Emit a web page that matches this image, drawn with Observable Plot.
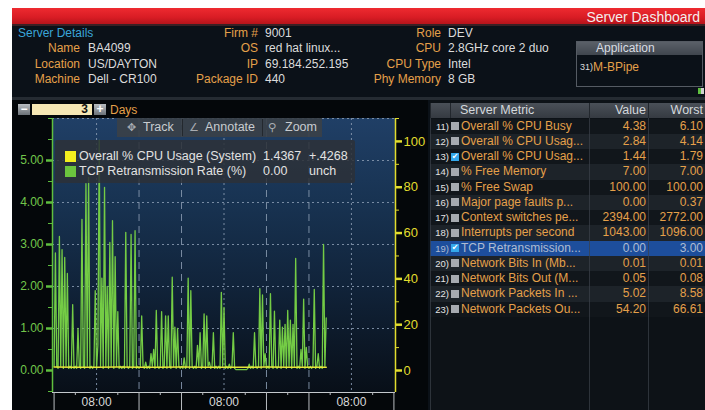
<!DOCTYPE html>
<html><head><meta charset="utf-8">
<script src="https://cdn.jsdelivr.net/npm/d3@7"></script>
<script src="https://cdn.jsdelivr.net/npm/@observablehq/plot@0.6"></script>
<style>
html,body{margin:0;padding:0;background:#fff;width:705px;height:410px;overflow:hidden;font-family:"Liberation Sans",Arial,sans-serif;font-size:12px;}
#root{position:relative;width:705px;height:410px;overflow:hidden;}
#root div{white-space:nowrap;}
</style></head><body><div id="root"></div>
<script>
// ---------- data ----------
const dashboardTitle = "Server Dashboard";
const sectionTitle = "Server Details";
const leftLabels = ["Name", "Location", "Machine"];
const leftValues = ["BA4099", "US/DAYTON", "Dell - CR100"];
const midLabels = ["Firm #", "OS", "IP", "Package ID"];
const midValues = ["9001", "red hat linux...", "69.184.252.195", "440"];
const rightLabels = ["Role", "CPU", "CPU Type", "Phy Memory"];
const rightValues = ["DEV", "2.8GHz core 2 duo", "Intel", "8 GB"];
const appHeader = "Application";
const appItems = ["M-BPipe"];
const appIds = ["31)"];

const metricIds = [11, 12, 13, 14, 15, 16, 17, 18, 19, 20, 21, 22, 23];
const metricNames = ["Overall % CPU Busy", "Overall % CPU Usag...", "Overall % CPU Usag...", "% Free Memory", "% Free Swap",
  "Major page faults p...", "Context switches pe...", "Interrupts per second", "TCP Retransmission...",
  "Network Bits In (Mb...", "Network Bits Out (M...", "Network Packets In ...", "Network Packets Ou..."];
const metricValues = ["4.38", "2.84", "1.44", "7.00", "100.00", "0.00", "2394.00", "1043.00", "0.00", "0.01", "0.05", "5.02", "54.20"];
const metricWorst = ["6.10", "4.14", "1.79", "7.00", "100.00", "0.37", "2772.00", "1096.00", "3.00", "0.01", "0.08", "8.58", "66.61"];
const checkedMetrics = [13, 19];
const highlightedMetric = 19;
const tableHeaders = ["Server Metric", "Value", "Worst"];

const legendNames = ["Overall % CPU Usage (System)", "TCP Retransmission Rate (%)"];
const legendValues = ["1.4367", "0.00"];
const legendChanges = ["+.4268", "unch"];
const toolbarItems = ["Track", "Annotate", "Zoom"];
const toolbarIcons = ["\u2725", "\u2220", "\u26B2"];
const periodValue = "3";
const periodUnit = "Days";

// TCP retransmission rate (%), sampled every 15 minutes from hour 0 (left axis)
const tcpStartHour = 0;
const tcpStepHours = 0.25;
const tcpValues = [
  0.1, 2.8, 0.1, 0.05, 3.19, 0.1, 2.88, 0.05, 2.69, 0.1,
  2.31, 0.05, 0.1, 0.05, 1.57, 0.05, 0.1, 0.05, 1.0, 0.1,
  0.05, 3.6, 0.1, 0.05, 4.45, 0.1, 4.6, 0.05, 0.1, 0.05,
  0.1, 1.9, 0.05, 0.6, 5.48, 0.1, 2.2, 0.05, 4.36, 0.1,
  2.0, 0.05, 3.05, 0.1, 3.57, 0.05, 2.71, 0.1, 1.4, 0.05,
  0.1, 0.05, 0.1, 0.05, 3.29, 0.1, 0.05, 0.1, 3.24, 0.05,
  0.1, 3.33, 0.05, 0.1, 0.05, 0.1, 1.3, 0.1, 0.05, 0.2,
  0.05, 0.1, 0.05, 0.4, 0.1, 0.5, 0.05, 1.43, 0.1, 0.05,
  0.1, 1.4, 0.05, 0.1, 1.3, 0.05, 1.3, 0.1, 0.05, 2.22,
  0.1, 1.03, 0.05, 1.0, 0.1, 0.05, 0.1, 0.05, 0.3, 0.05,
  0.1, 2.2, 0.05, 1.9, 0.1, 0.05, 0.1, 0.05, 0.6, 0.1,
  0.9, 0.05, 0.1, 1.35, 0.05, 1.3, 0.1, 0.2, 0.05, 0.1,
  0.9, 0.05, 0.1, 0.05, 0.1, 0.05, 1.86, 0.1, 1.5, 0.05,
  0.1, 0.05, 0.15, 0.05, 0.1, 0.9, 0.05, 0.02, 0.02, 0.02,
  0.02, 0.02, 0.02, 0.02, 0.02, 0.02, 0.05, 0.15, 0.05, 0.1,
  0.05, 0.9, 0.1, 0.05, 0.1, 1.95, 0.05, 1.8, 0.1, 0.4,
  0.05, 0.1, 0.05, 1.83, 0.1, 0.05, 1.41, 0.1, 0.05, 0.1,
  1.2, 0.05, 1.03, 0.1, 1.1, 0.05, 1.43, 0.1, 1.2, 0.05,
  1.1, 0.1, 2.67, 0.05, 0.1, 0.05, 0.5, 0.1, 1.7, 0.05,
  0.55, 0.1, 0.05, 0.1, 0.05, 0.1, 1.93, 0.05, 0.1, 0.4,
  0.05, 0.1, 0.05, 3.0, 0.1, 1.25
];
// Overall % CPU usage (System) (right axis)
const cpuHours = [0, 4, 8, 12, 16, 20, 24, 28, 32, 36, 40, 44, 48, 51.25];
const cpuValues = [1.5, 1.45, 1.4, 1.5, 1.45, 1.4, 1.5, 1.45, 1.45, 1.4, 1.5, 1.45, 1.42, 1.44];

const leftTicks = [0, 1, 2, 3, 4, 5];
const leftMinorTicks = [-0.5, 0.5, 1.5, 2.5, 3.5, 4.5, 5.5, 6];
const gridLevels = [1, 2, 3, 4, 5, 6];
const rightTicks = [0, 20, 40, 60, 80, 100];
const rightMinorTicks = [10, 30, 50, 70, 90, 110];
const timeTicks = [8, 32, 56];
const timeTickLabel = "08:00";
const dayBreaks = [16, 24, 40, 48];
const bandSeparators = [0, 16, 24, 40, 48, 64];
const minorTimeTicks = [4, 12, 20, 28, 36, 44, 52, 60];
const xDomain = [-0.3, 64.3];
const leftDomain = [-0.524, 6];
const rightDomain = [-9.6, 110];

// ---------- helpers ----------
const root = document.getElementById("root");
function el(style, text, parent) {
  const e = document.createElement("div");
  Object.assign(e.style, {position: "absolute"}, style);
  if (text != null) e.textContent = text;
  (parent || root).appendChild(e);
  return e;
}
const ORANGE = "#e5a04a", WHITE = "#dcdcdc";

// ---------- frame ----------
el({left: "12px", top: "8px", width: "693px", height: "402px", background: "#0b1118"});
el({left: "12px", top: "8px", width: "693px", height: "16px", background: "linear-gradient(#ee2a30,#d81c24 60%,#b5141b)"});
el({left: "12px", top: "24px", width: "693px", height: "2px", background: "#3a2024"});
el({left: "12px", top: "9px", width: "688px", height: "16px", lineHeight: "16px", textAlign: "right", color: "#f4eded", fontSize: "14px"}, dashboardTitle);

// header block
const rowC = [33, 48, 63.5, 79];
el({left: "18px", top: (rowC[0] - 8) + "px", lineHeight: "16px", color: "#3aa6d8"}, sectionTitle);
leftLabels.forEach((t, i) => {
  el({left: "0px", width: "80px", top: (rowC[i + 1] - 8) + "px", lineHeight: "16px", textAlign: "right", color: ORANGE}, t);
  el({left: "88px", top: (rowC[i + 1] - 8) + "px", lineHeight: "16px", color: WHITE}, leftValues[i]);
});
midLabels.forEach((t, i) => {
  el({left: "158px", width: "100px", top: (rowC[i] - 8) + "px", lineHeight: "16px", textAlign: "right", color: ORANGE}, t);
  el({left: "265px", top: (rowC[i] - 8) + "px", lineHeight: "16px", color: WHITE}, midValues[i]);
});
rightLabels.forEach((t, i) => {
  el({left: "341px", width: "100px", top: (rowC[i] - 8) + "px", lineHeight: "16px", textAlign: "right", color: ORANGE}, t);
  el({left: "448px", top: (rowC[i] - 8) + "px", lineHeight: "16px", color: WHITE}, rightValues[i]);
});
// application box
el({left: "576px", top: "41px", width: "125px", height: "44px", border: "1px solid #555b63", background: "#0b1118"});
el({left: "577px", top: "42px", width: "125px", height: "13px", background: "linear-gradient(#5a6068,#40464e)"});
el({left: "596px", top: "41px", lineHeight: "15px", color: "#d8dce2"}, appHeader);
appItems.forEach((t, i) => {
  el({left: "580px", top: (60 + i * 14) + "px", lineHeight: "14px", color: WHITE, fontSize: "9px"}, appIds[i]);
  el({left: "593px", top: (60 + i * 14) + "px", lineHeight: "14px", color: ORANGE}, t);
});
el({left: "698px", top: "88px", width: "6px", height: "6px", background: "linear-gradient(90deg,#5fbf3f 50%,#d0d0d0 50%)"});

// separators / panels
el({left: "12px", top: "97px", width: "693px", height: "3px", background: "#252b32"});
el({left: "12px", top: "100px", width: "416px", height: "310px", background: "#04070a"});
el({left: "430px", top: "100px", width: "275px", height: "310px", background: "#0d1217"});

// period control
el({left: "18px", top: "104px", width: "12px", height: "11px", background: "linear-gradient(#b8bcc0,#6c7278)", color: "#fff", fontSize: "12px", lineHeight: "11px", textAlign: "center", fontWeight: "bold"}, "\u2212");
el({left: "32px", top: "104px", width: "56px", height: "11px", paddingRight: "4px", background: "#f6e7b4", color: "#111", fontSize: "12px", lineHeight: "11px", textAlign: "right", fontWeight: "bold"}, periodValue);
el({left: "94px", top: "104px", width: "12px", height: "11px", background: "linear-gradient(#b8bcc0,#6c7278)", color: "#fff", fontSize: "12px", lineHeight: "11px", textAlign: "center", fontWeight: "bold"}, "+");
el({left: "110px", top: "103px", lineHeight: "14px", color: ORANGE}, periodUnit);

// plot background gradient
el({left: "52px", top: "118px", width: "343px", height: "274px", background: "linear-gradient(#203f66 0%,#183352 30%,#11243b 60%,#0c1827 82%,#080f18 100%)"});

// ---------- charts ----------
const W = 430, H = 310, mL = 52, mR = 35, mT = 18, mB = 18;
const tcp = tcpValues.map((v, i) => ({h: tcpStartHour + i * tcpStepHours, v}));
const cpu = cpuValues.map((v, i) => ({h: cpuHours[i], v}));
const GREEN = "#5fbf3f", YEL = "#e2dd2e", GRID = "#8597ad";
const baseStyle = {background: "transparent", color: "#d8d8d8", fontFamily: "Liberation Sans, Arial, sans-serif", fontSize: "12px", overflow: "visible"};
const blank = () => "";

const p1 = Plot.plot({
  width: W, height: H, marginLeft: mL, marginRight: mR, marginTop: mT, marginBottom: mB,
  style: baseStyle,
  x: {domain: xDomain, label: null},
  y: {domain: leftDomain, label: null},
  marks: [
    Plot.ruleY(gridLevels, {stroke: GRID, strokeDasharray: "2,3", strokeOpacity: 0.9}),
    Plot.ruleX(timeTicks, {stroke: GRID, strokeDasharray: "2,3", strokeOpacity: 0.9}),
    Plot.ruleX(dayBreaks, {stroke: GRID, strokeDasharray: "7,5", strokeOpacity: 0.9}),
    Plot.ruleY([leftDomain[0]], {stroke: "#c4c8cc"}),
    Plot.lineY(tcp, {x: "h", y: "v", stroke: "#74cc45", strokeWidth: 1.3}),
    Plot.axisY(leftTicks, {anchor: "left", label: null, tickFormat: d3.format(".2f"), tickSize: 6, tickPadding: 3, stroke: GREEN, fill: "#72c64a", strokeWidth: 2.5, fontSize: 12}),
    Plot.axisY(leftMinorTicks, {anchor: "left", label: null, tickFormat: blank, tickSize: 4, stroke: GREEN}),
    Plot.ruleX([xDomain[0]], {stroke: GREEN, strokeWidth: 1.5}),
    Plot.axisX(timeTicks, {anchor: "bottom", label: null, tickSize: 0, tickPadding: 5, tickFormat: () => timeTickLabel, fill: "#d8d8d8", fontSize: 12}),
    Plot.axisX(bandSeparators, {anchor: "bottom", label: null, tickSize: 18, tickFormat: blank, stroke: "#b8bcc0"}),
    Plot.axisX(minorTimeTicks, {anchor: "bottom", label: null, tickSize: 3, tickFormat: blank, stroke: "#b8bcc0"})
  ]
});
Object.assign(p1.style, {position: "absolute", left: "0px", top: "100px"});
root.appendChild(p1);

const p2 = Plot.plot({
  width: W, height: H, marginLeft: mL, marginRight: mR, marginTop: mT, marginBottom: mB,
  style: baseStyle,
  x: {domain: xDomain, axis: null, label: null},
  y: {domain: rightDomain, axis: null, label: null},
  marks: [
    Plot.lineY(cpu, {x: "h", y: "v", stroke: "#e8e43a", strokeWidth: 1.6}),
    Plot.axisY(rightTicks, {anchor: "right", label: null, tickSize: 6, tickPadding: 2, stroke: YEL, fill: YEL, strokeWidth: 2.5, fontSize: 13}),
    Plot.axisY(rightMinorTicks, {anchor: "right", label: null, tickSize: 3, tickFormat: blank, stroke: YEL}),
    Plot.ruleX([xDomain[1]], {stroke: YEL, strokeWidth: 1.5})
  ]
});
Object.assign(p2.style, {position: "absolute", left: "0px", top: "100px"});
root.appendChild(p2);

// toolbar overlay
el({left: "117px", top: "118px", width: "205px", height: "19px", background: "rgba(58,64,72,0.92)"});
el({left: "182px", top: "119px", width: "1px", height: "17px", background: "#23282e"});
el({left: "262px", top: "119px", width: "1px", height: "17px", background: "#23282e"});
const tbX = [[127, 143], [189, 205], [268, 285]];
toolbarItems.forEach((t, i) => {
  el({left: tbX[i][0] + "px", top: "119px", lineHeight: "17px", color: "#a8acb2", fontFamily: "DejaVu Sans", fontSize: "11px"}, toolbarIcons[i]);
  el({left: tbX[i][1] + "px", top: "119px", lineHeight: "17px", color: "#c8ccd0", fontSize: "12.5px"}, t);
});

// legend overlay
el({left: "55px", top: "140px", width: "300px", height: "43px", background: "rgba(44,49,56,0.86)", borderRadius: "2px"});
const legendColors = ["#f2ee1e", "#6cc43e"];
legendNames.forEach((t, i) => {
  const cy = 156 + i * 15;
  el({left: "65px", top: (cy - 5) + "px", width: "11px", height: "11px", background: legendColors[i]});
  el({left: "79px", top: (cy - 8) + "px", lineHeight: "16px", color: "#e2e2e2", fontSize: "12.5px"}, t);
  el({left: "263px", top: (cy - 8) + "px", lineHeight: "16px", color: "#e2e2e2", fontSize: "12.5px"}, legendValues[i]);
  el({left: "309px", top: (cy - 8) + "px", lineHeight: "16px", color: "#e2e2e2", fontSize: "12.5px"}, legendChanges[i]);
});

// ---------- table ----------
el({left: "430px", top: "103px", width: "275px", height: "15px", background: "linear-gradient(#4a5058,#353a41)"});
[430, 450, 589, 648].forEach(x => el({left: x + "px", top: "103px", width: "1px", height: "15px", background: "#22272d"}));
el({left: "460px", top: "103px", lineHeight: "15px", color: "#d4d8dc", fontSize: "12.5px"}, tableHeaders[0]);
el({left: "560px", width: "86px", top: "103px", lineHeight: "15px", textAlign: "right", color: "#d4d8dc", fontSize: "12.5px"}, tableHeaders[1]);
el({left: "620px", width: "83px", top: "103px", lineHeight: "15px", textAlign: "right", color: "#d4d8dc", fontSize: "12.5px"}, tableHeaders[2]);
const rowH = 15.25, row0 = 118.5;
metricIds.forEach((id, i) => {
  const top = row0 + i * rowH;
  const hi = id === highlightedMetric;
  el({left: "430px", top: top + "px", width: "275px", height: rowH + "px", background: hi ? "#1d4e9c" : (i % 2 ? "#1d2329" : "#11161b")});
  const txt = hi ? "#aebcd2" : ORANGE;
  el({left: "430px", width: "19px", top: top + "px", lineHeight: rowH + "px", textAlign: "right", color: hi ? "#aebcd2" : "#e4e4e4", fontSize: "9.5px", fontFamily: "Liberation Sans Narrow, Liberation Sans, sans-serif"}, id + ")");
  const chk = checkedMetrics.includes(id);
  el({left: "451px", top: (top + 3.5) + "px", width: "8px", height: "8px", background: chk ? "#34a8ec" : "#a6aab0", color: "#fff", fontSize: "8px", lineHeight: "8px", textAlign: "center", fontFamily: "DejaVu Sans"}, chk ? "\u2714" : "");
  el({left: "461px", top: top + "px", lineHeight: rowH + "px", color: txt, fontSize: "12px"}, metricNames[i]);
  el({left: "560px", width: "86px", top: top + "px", lineHeight: rowH + "px", textAlign: "right", color: txt, fontSize: "12px"}, metricValues[i]);
  el({left: "620px", width: "83px", top: top + "px", lineHeight: rowH + "px", textAlign: "right", color: txt, fontSize: "12px"}, metricWorst[i]);
});
[430, 589, 648].forEach(x => el({left: x + "px", top: "118px", width: "1px", height: "292px", background: "rgba(60,66,74,0.7)"}));
</script></body></html>
